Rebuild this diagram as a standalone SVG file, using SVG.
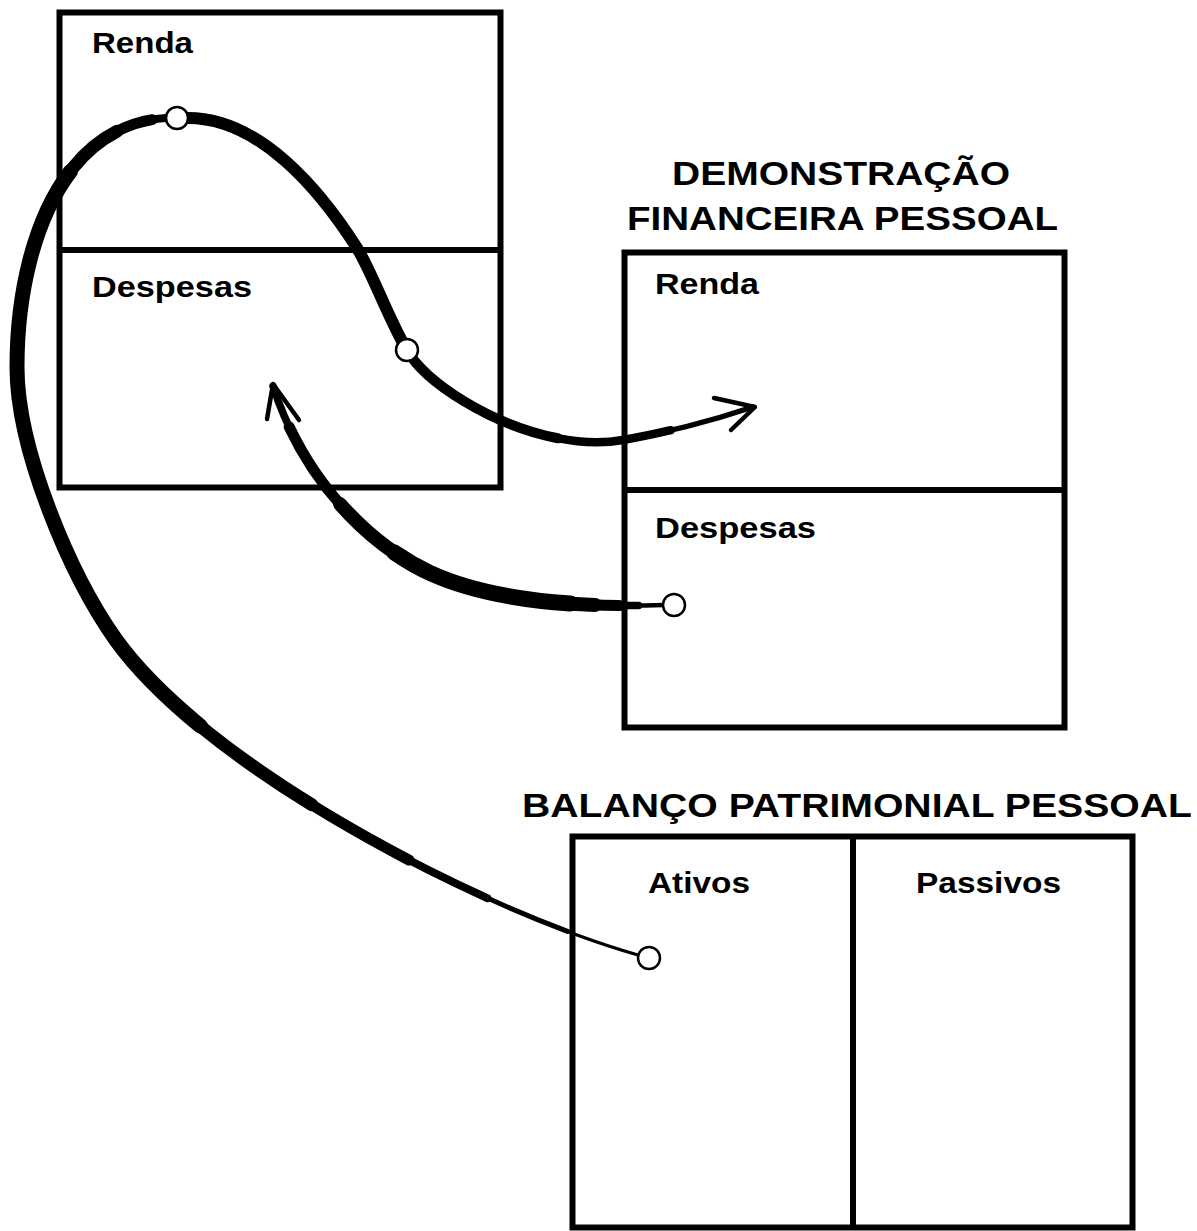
<svg xmlns="http://www.w3.org/2000/svg" width="1197" height="1231" viewBox="0 0 1197 1231">
<style>
.box{fill:none;stroke:#000;stroke-width:6}
.div{stroke:#000;stroke-width:6}
.lbl{font-family:"Liberation Sans",Arial,sans-serif;font-weight:bold;font-size:30px;fill:#000}
.ttl{font-family:"Liberation Sans",Arial,sans-serif;font-weight:bold;font-size:34px;fill:#000}
.brush{fill:none;stroke:#000;stroke-linecap:round;stroke-linejoin:round}
.head{fill:none;stroke:#000;stroke-width:4.5;stroke-linecap:round;stroke-linejoin:round}
.dot{fill:#fff;stroke:#000;stroke-width:2.5}
</style>
<defs>
<path id="pA" pathLength="100" d="M 638 955 C 480 910 210 770 116 640 C 70 575 17 450 17 367 C 17 250 60 125 166 118 L 177 118"/>
<path id="pB" pathLength="100" d="M 188 118 C 260 118 320 190 357 248 C 372 272 388 318 407 350 C 430 392 540 455 623 440 C 670 432 720 418 753 407"/>
<path id="pC" pathLength="100" d="M 663 605 C 600 607 500 605 430 573 C 360 540 300 470 273 386"/>
</defs>
<rect width="1197" height="1231" fill="#fff"/>

<g id="node-left">
<rect class="box" x="59.5" y="12.5" width="441" height="475"/>
<line class="div" x1="59.5" y1="250" x2="500.5" y2="250"/>
<text class="lbl" x="92" y="53" textLength="101" lengthAdjust="spacingAndGlyphs">Renda</text>
<text class="lbl" x="92" y="297" textLength="160" lengthAdjust="spacingAndGlyphs">Despesas</text>
</g>

<g id="node-dfp">
<text class="ttl" x="672" y="185" textLength="338" lengthAdjust="spacingAndGlyphs">DEMONSTRAÇÃO</text>
<text class="ttl" x="627" y="230" textLength="431" lengthAdjust="spacingAndGlyphs">FINANCEIRA PESSOAL</text>
<rect class="box" x="624.5" y="252.5" width="440" height="475"/>
<line class="div" x1="624.5" y1="490" x2="1064.5" y2="490"/>
<text class="lbl" x="655" y="294" textLength="104" lengthAdjust="spacingAndGlyphs">Renda</text>
<text class="lbl" x="655" y="538" textLength="161" lengthAdjust="spacingAndGlyphs">Despesas</text>
</g>

<g id="node-bpp">
<text class="ttl" x="522" y="817" textLength="670" lengthAdjust="spacingAndGlyphs">BALANÇO PATRIMONIAL PESSOAL</text>
<rect class="box" x="572.5" y="836.5" width="560" height="391"/>
<line class="div" x1="853" y1="836.5" x2="853" y2="1227.5"/>
<text class="lbl" x="648" y="893" textLength="102" lengthAdjust="spacingAndGlyphs">Ativos</text>
<text class="lbl" x="916" y="893" textLength="145" lengthAdjust="spacingAndGlyphs">Passivos</text>
</g>

<g id="connectors">
<!-- big loop: Ativos -> Renda (left) -->
<use href="#pA" class="brush" stroke-width="3"/>
<use href="#pA" class="brush" stroke-width="5" stroke-dasharray="94 200" stroke-dashoffset="-6"/>
<use href="#pA" class="brush" stroke-width="8" stroke-dasharray="87 200" stroke-dashoffset="-13"/>
<use href="#pA" class="brush" stroke-width="11" stroke-dasharray="78 200" stroke-dashoffset="-20"/>
<use href="#pA" class="brush" stroke-width="13" stroke-dasharray="66 200" stroke-dashoffset="-29"/>
<use href="#pA" class="brush" stroke-width="15" stroke-dasharray="50 200" stroke-dashoffset="-40"/>
<!-- Renda (left) -> Renda (right) -->
<use href="#pB" class="brush" stroke-width="5.5"/>
<use href="#pB" class="brush" stroke-width="8.5" stroke-dasharray="88 200"/>
<use href="#pB" class="brush" stroke-width="10" stroke-dasharray="72 200"/>
<use href="#pB" class="brush" stroke-width="12" stroke-dasharray="46 200"/>
<polyline class="head" points="714,398 755,407 731,430"/>
<!-- Despesas (right) -> Despesas (left) -->
<use href="#pC" class="brush" stroke-width="4.5"/>
<use href="#pC" class="brush" stroke-width="7.5" stroke-dasharray="95 200" stroke-dashoffset="-5"/>
<use href="#pC" class="brush" stroke-width="11" stroke-dasharray="82 200" stroke-dashoffset="-9"/>
<use href="#pC" class="brush" stroke-width="14" stroke-dasharray="58 200" stroke-dashoffset="-14"/>
<use href="#pC" class="brush" stroke-width="16" stroke-dasharray="38 200" stroke-dashoffset="-19"/>
<polyline class="head" points="267,419 273,384 299,420"/>
<circle class="dot" cx="177" cy="118" r="11"/>
<circle class="dot" cx="407" cy="350" r="11"/>
<circle class="dot" cx="674" cy="605" r="11"/>
<circle class="dot" cx="649" cy="958" r="11"/>
</g>
</svg>
